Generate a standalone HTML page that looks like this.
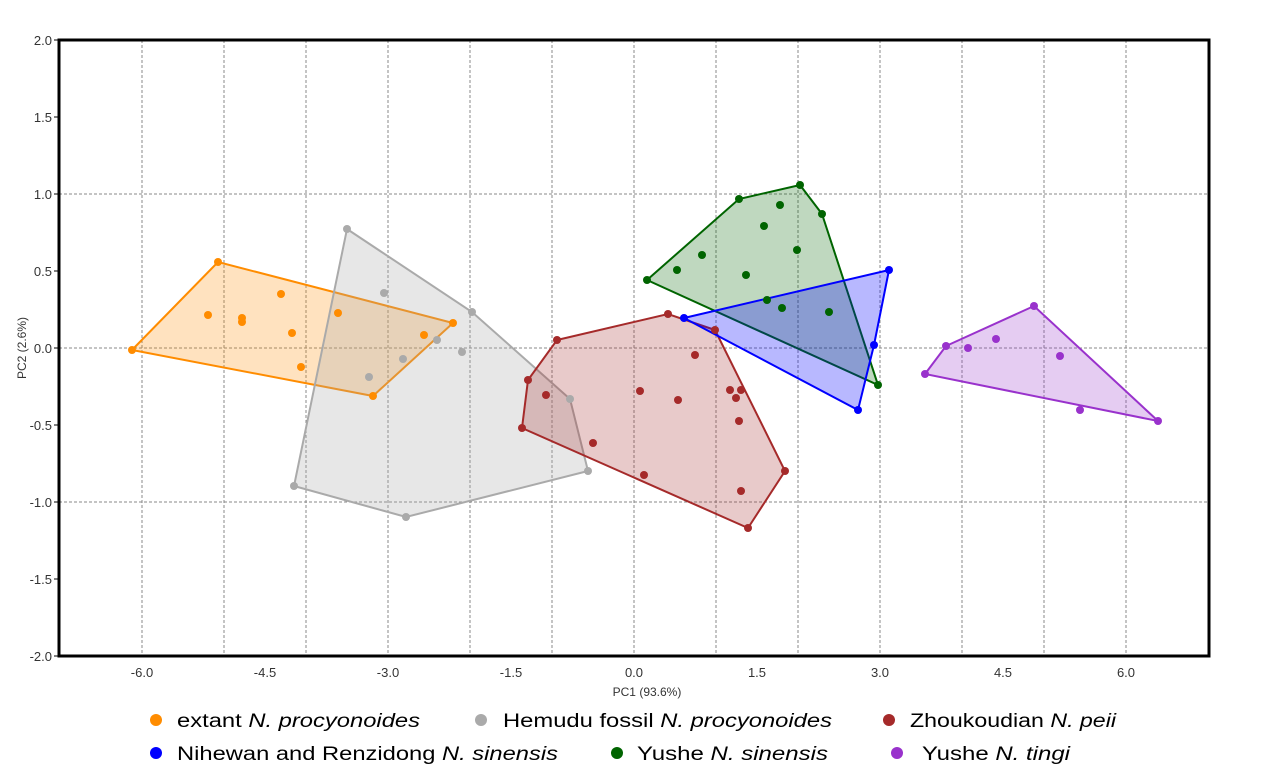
<!DOCTYPE html>
<html><head><meta charset="utf-8"><style>body{margin:0;background:#fff}svg{display:block}</style></head><body>
<svg width="1268" height="779" xmlns="http://www.w3.org/2000/svg" font-family="Liberation Sans, sans-serif">
<g stroke="#888" stroke-width="1" stroke-dasharray="3,2">
<line x1="142" y1="40" x2="142" y2="656"/><line x1="224" y1="40" x2="224" y2="656"/><line x1="306" y1="40" x2="306" y2="656"/><line x1="388" y1="40" x2="388" y2="656"/><line x1="470" y1="40" x2="470" y2="656"/><line x1="552" y1="40" x2="552" y2="656"/><line x1="634" y1="40" x2="634" y2="656"/><line x1="716" y1="40" x2="716" y2="656"/><line x1="798" y1="40" x2="798" y2="656"/><line x1="880" y1="40" x2="880" y2="656"/><line x1="962" y1="40" x2="962" y2="656"/><line x1="1044" y1="40" x2="1044" y2="656"/><line x1="1126" y1="40" x2="1126" y2="656"/>
<line x1="59" y1="194" x2="1209" y2="194"/><line x1="59" y1="348" x2="1209" y2="348"/><line x1="59" y1="502" x2="1209" y2="502"/>
</g>
<g stroke-width="2">
<polygon points="132,350 218,262 453,323 373,396" fill="#ff8c00" fill-opacity="0.25" stroke="#ff8c00"/>
<polygon points="347,229 472,312 570,399 588,471 406,517 294,486" fill="#aaa" fill-opacity="0.28" stroke="#aaa"/>
<polygon points="557,340 668,314 715,330 785,471 748,528 522,428 528,380" fill="#a52a2a" fill-opacity="0.25" stroke="#a52a2a"/>
<polygon points="647,280 739,199 800,185 822,214 878,385" fill="#006400" fill-opacity="0.25" stroke="#006400"/>
<polygon points="684,318 889,270 874,345 858,410" fill="#0000ff" fill-opacity="0.28" stroke="#0000ff"/>
<polygon points="925,374 946,346 1034,306 1158,421" fill="#9932cc" fill-opacity="0.25" stroke="#9932cc"/>
</g>
<g fill="#ff8c00"><circle cx="132" cy="350" r="4"/><circle cx="218" cy="262" r="4"/><circle cx="208" cy="315" r="4"/><circle cx="242" cy="318" r="4"/><circle cx="242" cy="322" r="4"/><circle cx="281" cy="294" r="4"/><circle cx="292" cy="333" r="4"/><circle cx="301" cy="367" r="4"/><circle cx="338" cy="313" r="4"/><circle cx="373" cy="396" r="4"/><circle cx="424" cy="335" r="4"/><circle cx="453" cy="323" r="4"/></g>
<g fill="#aaa"><circle cx="347" cy="229" r="4"/><circle cx="384" cy="293" r="4"/><circle cx="403" cy="359" r="4"/><circle cx="369" cy="377" r="4"/><circle cx="437" cy="340" r="4"/><circle cx="462" cy="352" r="4"/><circle cx="472" cy="312" r="4"/><circle cx="570" cy="399" r="4"/><circle cx="588" cy="471" r="4"/><circle cx="406" cy="517" r="4"/><circle cx="294" cy="486" r="4"/></g>
<g fill="#a52a2a"><circle cx="557" cy="340" r="4"/><circle cx="668" cy="314" r="4"/><circle cx="715" cy="330" r="4"/><circle cx="695" cy="355" r="4"/><circle cx="528" cy="380" r="4"/><circle cx="546" cy="395" r="4"/><circle cx="522" cy="428" r="4"/><circle cx="593" cy="443" r="4"/><circle cx="640" cy="391" r="4"/><circle cx="678" cy="400" r="4"/><circle cx="644" cy="475" r="4"/><circle cx="730" cy="390" r="4"/><circle cx="741" cy="390" r="4"/><circle cx="736" cy="398" r="4"/><circle cx="739" cy="421" r="4"/><circle cx="741" cy="491" r="4"/><circle cx="748" cy="528" r="4"/><circle cx="785" cy="471" r="4"/></g>
<g fill="#006400"><circle cx="647" cy="280" r="4"/><circle cx="739" cy="199" r="4"/><circle cx="800" cy="185" r="4"/><circle cx="822" cy="214" r="4"/><circle cx="878" cy="385" r="4"/><circle cx="677" cy="270" r="4"/><circle cx="702" cy="255" r="4"/><circle cx="780" cy="205" r="4"/><circle cx="764" cy="226" r="4"/><circle cx="797" cy="250" r="4"/><circle cx="746" cy="275" r="4"/><circle cx="767" cy="300" r="4"/><circle cx="782" cy="308" r="4"/><circle cx="829" cy="312" r="4"/></g>
<g fill="#0000ff"><circle cx="684" cy="318" r="4"/><circle cx="889" cy="270" r="4"/><circle cx="874" cy="345" r="4"/><circle cx="858" cy="410" r="4"/></g>
<g fill="#9932cc"><circle cx="925" cy="374" r="4"/><circle cx="946" cy="346" r="4"/><circle cx="968" cy="348" r="4"/><circle cx="996" cy="339" r="4"/><circle cx="1034" cy="306" r="4"/><circle cx="1060" cy="356" r="4"/><circle cx="1080" cy="410" r="4"/><circle cx="1158" cy="421" r="4"/></g>
<rect x="59" y="40" width="1150" height="616" fill="none" stroke="#000" stroke-width="3"/>
<g stroke="#000" stroke-width="1"><line x1="54" y1="40" x2="59" y2="40"/><line x1="54" y1="117" x2="59" y2="117"/><line x1="54" y1="194" x2="59" y2="194"/><line x1="54" y1="271" x2="59" y2="271"/><line x1="54" y1="348" x2="59" y2="348"/><line x1="54" y1="425" x2="59" y2="425"/><line x1="54" y1="502" x2="59" y2="502"/><line x1="54" y1="579" x2="59" y2="579"/><line x1="54" y1="656" x2="59" y2="656"/></g>
<g font-size="13" fill="#333" text-anchor="end"><text x="52" y="45">2.0</text><text x="52" y="122">1.5</text><text x="52" y="199">1.0</text><text x="52" y="276">0.5</text><text x="52" y="353">0.0</text><text x="52" y="430">-0.5</text><text x="52" y="507">-1.0</text><text x="52" y="584">-1.5</text><text x="52" y="661">-2.0</text></g>
<g font-size="13" fill="#333" text-anchor="middle"><text x="142" y="677">-6.0</text><text x="265" y="677">-4.5</text><text x="388" y="677">-3.0</text><text x="511" y="677">-1.5</text><text x="634" y="677">0.0</text><text x="757" y="677">1.5</text><text x="880" y="677">3.0</text><text x="1003" y="677">4.5</text><text x="1126" y="677">6.0</text>
<text x="647" y="696" font-size="12">PC1 (93.6%)</text>
<text transform="translate(26,348) rotate(-90)" font-size="12">PC2 (2.6%)</text></g>
<g font-size="19" fill="#000">
<circle cx="156" cy="720" r="6" fill="#ff8c00"/><text x="177" y="727" textLength="243" lengthAdjust="spacingAndGlyphs">extant <tspan font-style="italic">N. procyonoides</tspan></text>
<circle cx="481" cy="720" r="6" fill="#aaa"/><text x="503" y="727" textLength="329" lengthAdjust="spacingAndGlyphs">Hemudu fossil <tspan font-style="italic">N. procyonoides</tspan></text>
<circle cx="889" cy="720" r="6" fill="#a52a2a"/><text x="910" y="727" textLength="206" lengthAdjust="spacingAndGlyphs">Zhoukoudian <tspan font-style="italic">N. peii</tspan></text>
<circle cx="156" cy="753" r="6" fill="#0000ff"/><text x="177" y="760" textLength="381" lengthAdjust="spacingAndGlyphs">Nihewan and Renzidong <tspan font-style="italic">N. sinensis</tspan></text>
<circle cx="617" cy="753" r="6" fill="#006400"/><text x="637" y="760" textLength="191" lengthAdjust="spacingAndGlyphs">Yushe <tspan font-style="italic">N. sinensis</tspan></text>
<circle cx="737" cy="0" r="0"/>
<circle cx="897" cy="753" r="6" fill="#9932cc"/><text x="922" y="760" textLength="148" lengthAdjust="spacingAndGlyphs">Yushe <tspan font-style="italic">N. tingi</tspan></text>
</g>
</svg>
</body></html>
